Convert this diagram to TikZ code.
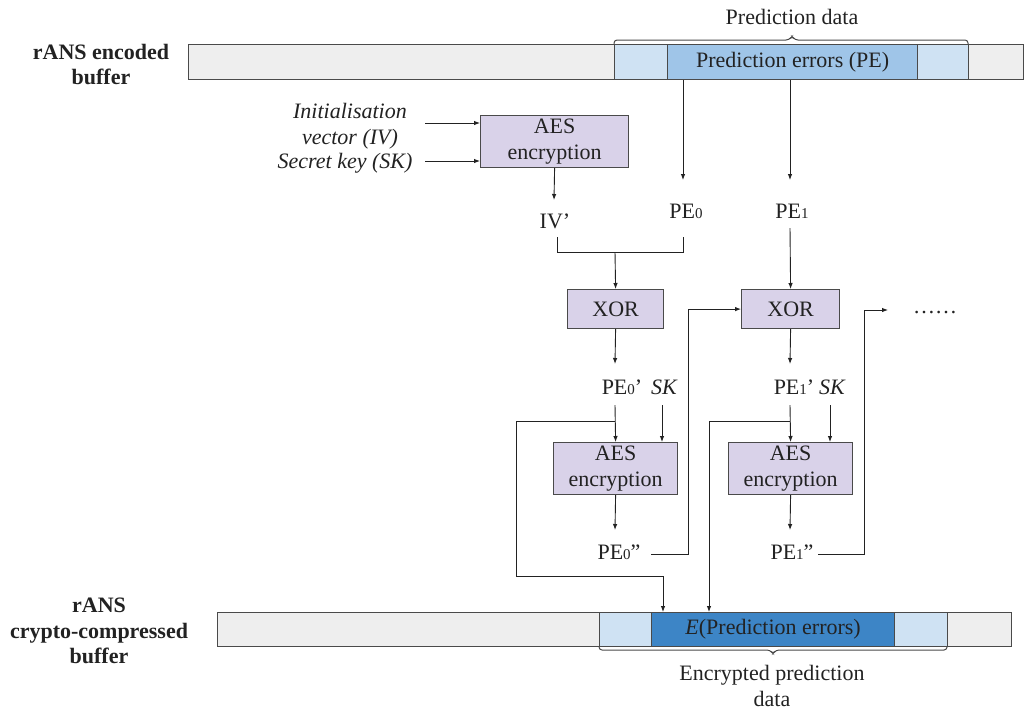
\documentclass[tikz,border=0pt]{standalone}
\usepackage{fontspec}
\setmainfont{Liberation Serif}
\usetikzlibrary{arrows.meta}
\definecolor{barg}{HTML}{EEEEEE}
\definecolor{lblue}{HTML}{CFE2F3}
\definecolor{mblue}{HTML}{9FC5E8}
\definecolor{dblue}{HTML}{3D85C6}
\definecolor{lpurp}{HTML}{D9D2E9}
\definecolor{edge}{HTML}{4A4A4A}
\definecolor{ink}{HTML}{222222}
\newcommand{\dg}[1]{{\fontsize{15}{15}\selectfont #1}}
\begin{document}
\begin{tikzpicture}[x=1pt,y=-1pt,
  font=\fontsize{22}{25.5}\selectfont, text=ink,
  bar/.style={draw=edge, line width=1.2pt, anchor=north west, inner sep=0pt, minimum height=35pt},
  procbox/.style={draw=edge, line width=1.2pt, fill=lpurp, anchor=north west, inner sep=0pt, align=center},
  lbl/.style={inner sep=0pt, align=center},
  boldlbl/.style={lbl, font=\fontsize{22}{25.5}\selectfont\bfseries},
  itlbl/.style={lbl, font=\fontsize{22}{25.5}\selectfont\itshape},
  conn/.style={draw=ink, line width=0.9pt},
  arr/.style={conn, -{Latex[length=6pt,width=4.5pt]}},
  brace/.style={draw=edge, line width=1pt, rounded corners=3pt}]

\useasboundingbox (0,0) rectangle (1024,710);
\fill[white] (0,0) rectangle (1024,710);

% braces
\draw[brace] (614,47) -- (614,40) -- (789,40) -- (792,36) -- (795,40) -- (968,40) -- (968,47);
\draw[brace] (599,642) -- (599,650) -- (770,650) -- (773,654) -- (776,650) -- (947,650) -- (947,642);

% top buffer
\node[bar, fill=barg, minimum width=835pt] (topbar) at (188,44) {};
\node[bar, fill=lblue, minimum width=354pt] (toppd) at (614,44) {};
\node[bar, fill=mblue, minimum width=250pt] (pe) at (667,44) {Prediction errors (PE)};

% bottom buffer
\node[bar, fill=barg, minimum width=794pt, minimum height=34pt] (botbar) at (217,612) {};
\node[bar, fill=lblue, minimum width=348pt, minimum height=34pt] (botpd) at (599,612) {};
\node[bar, fill=dblue, minimum width=243pt, minimum height=34pt] (epe) at (651,612) {\textit{E}(Prediction errors)};

% side / caption labels
\node[boldlbl] (toplbl) at (101,64.5) {rANS encoded\\buffer};
\node[boldlbl] (botlbl) at (99,631) {rANS\\crypto-compressed\\buffer};
\node[lbl] (pdata) at (792,17) {Prediction data};
\node[lbl] (epdata) at (772,686) {Encrypted prediction\\data};
\node[itlbl] (iv) at (350,126) {Initialisation\\vector (IV)};
\node[itlbl] (sk) at (345,163) {Secret key (SK)};

% process boxes
\node[procbox, minimum width=148pt, minimum height=52pt] (aes1) at (480,115) {AES\\encryption};
\node[procbox, minimum width=96pt, minimum height=39pt] (xor1) at (567,289) {XOR};
\node[procbox, minimum width=98pt, minimum height=39pt] (xor2) at (741,289) {XOR};
\node[procbox, minimum width=124pt, minimum height=52pt] (aes2) at (553,442) {AES\\encryption};
\node[procbox, minimum width=124pt, minimum height=52pt] (aes3) at (728,442) {AES\\encryption};

% value labels
\node[lbl] (ivp) at (555,221) {IV’};
\node[lbl] (pe0) at (686,211) {PE\dg{0}};
\node[lbl] (pe1) at (792,211) {PE\dg{1}};
\node[lbl] (pe0p) at (622,387) {PE\dg{0}’};
\node[itlbl] (sk1) at (664,387) {SK};
\node[lbl] (pe1p) at (794,387) {PE\dg{1}’};
\node[itlbl] (sk2) at (832,387) {SK};
\node[lbl] (pe0pp) at (619,552) {PE\dg{0}”};
\node[lbl] (pe1pp) at (792,552) {PE\dg{1}”};
\node[lbl] (dots) at (935,313) {……};

% coordinates
\coordinate (ivo) at (425,123);
\coordinate (sko) at (425,161);
\coordinate (ivin) at (554,200);
\coordinate (pe0in) at (683,180);
\coordinate (pe1in) at (790,180);
\coordinate (bl) at (557,237);
\coordinate (br) at (683,237);
\coordinate (bm) at (615,252);
\coordinate (pe1o) at (790,228);
\coordinate (x1o) at (615,364);
\coordinate (x2o) at (790,364);
\coordinate (fb0s) at (651,554);
\coordinate (fb0x) at (688,554);
\coordinate (fb1s) at (818,554);
\coordinate (fb1x) at (864,554);
\coordinate (fb1e) at (888,310);
\coordinate (p0o) at (615,405);
\coordinate (k1o) at (662,405);
\coordinate (br0) at (615,421);
\coordinate (br0l) at (516,576);
\coordinate (out0) at (663,576);
\coordinate (p1o) at (790,405);
\coordinate (k2o) at (830,405);
\coordinate (br1) at (790,421);
\coordinate (br1l) at (709,421);
\coordinate (a2o) at (615,530);
\coordinate (a3o) at (790,530);

% connectors
\draw[arr] (ivo) -- (ivo -| aes1.west);
\draw[arr] (sko) -- (sko -| aes1.west);
\draw[arr] (aes1.south) -- (ivin);
\draw[arr] (pe0in |- pe.south) -- (pe0in);
\draw[arr] (pe1in |- pe.south) -- (pe1in);
\draw[conn] (bl) |- (br |- bm) -- (br);
\draw[arr] (bm) -- (xor1.north);
\draw[arr] (pe1o) -- (xor2.north);
\draw[arr] (xor1.south) -- (x1o);
\draw[arr] (xor2.south) -- (x2o);
\draw[arr] (fb0s) -- (fb0x) |- (xor2.west);
\draw[arr] (fb1s) -- (fb1x) |- (fb1e);
\draw[arr] (p0o) -- (aes2.north);
\draw[arr] (k1o) -- (k1o |- aes2.north);
\draw[arr] (br0) -| (br0l) -| (out0 |- epe.north);
\draw[arr] (p1o) -- (aes3.north);
\draw[arr] (k2o) -- (k2o |- aes3.north);
\draw[arr] (br1) -- (br1l) -- (br1l |- epe.north);
\draw[arr] (aes2.south) -- (a2o);
\draw[arr] (aes3.south) -- (a3o);
\end{tikzpicture}
\end{document}
